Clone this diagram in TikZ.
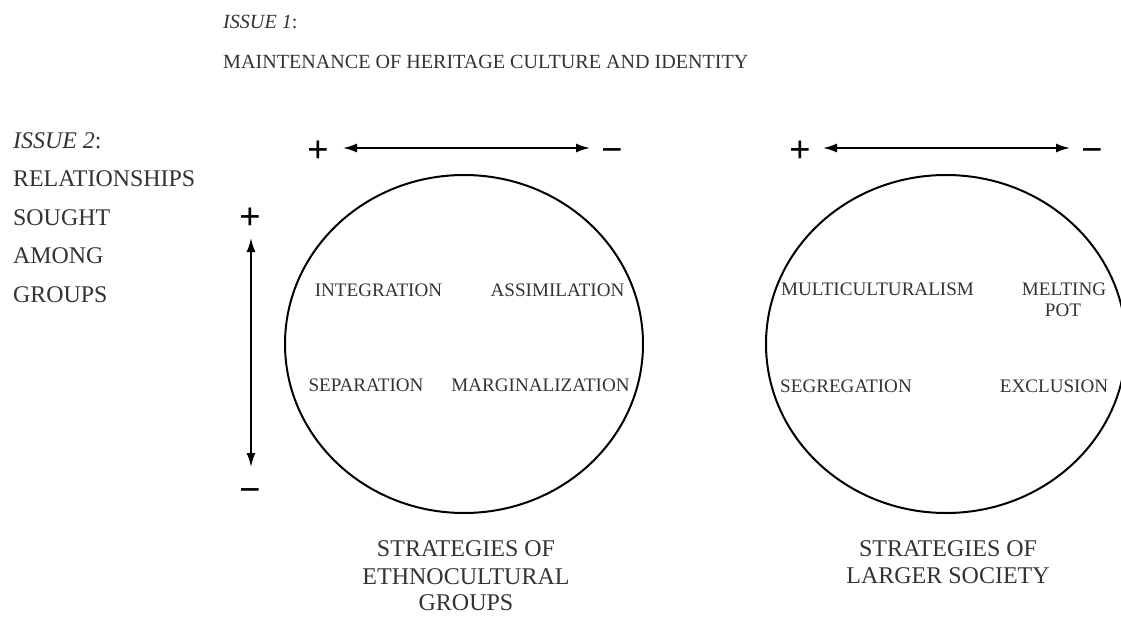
\documentclass[tikz,border=0pt]{standalone}
\usepackage{fontspec}
\setmainfont{Liberation Serif}
\usetikzlibrary{arrows.meta,shapes.geometric}
\definecolor{txt}{HTML}{333333}
\tikzset{
  lbl/.style={inner sep=0pt, text height=0.662em, text depth=0pt, text=txt},
  head/.style={lbl, font=\fontsize{20.1}{21}\selectfont},
  side/.style={lbl, font=\fontsize{23.9}{25}\selectfont, anchor=west},
  inner/.style={lbl, font=\fontsize{19.1}{20}\selectfont},
  foot/.style={lbl, font=\fontsize{24}{25}\selectfont},
  sign/.style={inner sep=0pt, font=\bfseries\fontsize{38}{40}\selectfont, text=black},
  dbl/.style={line width=1.8pt, {Latex[length=14pt,width=9pt]}-{Latex[length=14pt,width=9pt]}},
  ring/.style={line width=2pt, draw=black, ellipse, inner sep=0pt, outer sep=0pt}
}
\begin{document}
\begin{tikzpicture}[x=1pt,y=-1pt]
\useasboundingbox[fill=white] (0,0) rectangle (1121,616);
% header
\node[head, anchor=west] (iss1) at (223,25) {\textit{ISSUE 1}:};
\node[head, anchor=west] (main) at (223,65) {MAINTENANCE OF HERITAGE CULTURE AND IDENTITY};
% left column
\node[side] (iss2) at (13,145) {\textit{ISSUE 2}:};
\node[side] (rel) at (13,183) {RELATIONSHIPS};
\node[side] (sou) at (13,222) {SOUGHT};
\node[side] (amo) at (13,260) {AMONG};
\node[side] (gro) at (13,299) {GROUPS};
% horizontal axes
\node[sign] (p1) at (318,152) {+};
\node[sign] (m1) at (612,155.5) {−};
\coordinate (a1l) at (343,148);
\coordinate (a1r) at (590,148);
\draw[dbl] (a1l) -- (a1r);
\node[sign] (p2) at (800,152) {+};
\node[sign] (m2) at (1092,155.5) {−};
\coordinate (a2l) at (823,148);
\coordinate (a2r) at (1070,148);
\draw[dbl] (a2l) -- (a2r);
% vertical axis
\node[sign] (pv) at (250,219) {+};
\node[sign] (mv) at (250,495.5) {−};
\coordinate (vt) at (251,238);
\coordinate (vb) at (251,467);
\draw[dbl] (vt) -- (vb);
% circles
\node[ring, minimum width=358pt, minimum height=338pt] (c1) at (464,344) {};
\node[ring, minimum width=360pt, minimum height=338pt] (c2) at (946,344) {};
% left circle labels
\node[inner] (int) at (378.5,293) {INTEGRATION};
\node[inner] (ass) at (557.5,293) {ASSIMILATION};
\node[inner] (sep) at (366,388) {SEPARATION};
\node[inner] (mar) at (540.5,388) {MARGINALIZATION};
% right circle labels
\node[inner] (mul) at (877.5,292) {MULTICULTURALISM};
\node[inner] (mel) at (1064,292) {MELTING};
\node[inner] (pot) at (1063,313) {POT};
\node[inner] (seg) at (846,389) {SEGREGATION};
\node[inner] (exc) at (1054,389) {EXCLUSION};
% footers
\node[foot] (f1a) at (466,553) {STRATEGIES OF};
\node[foot] (f1b) at (466,581) {ETHNOCULTURAL};
\node[foot] (f1c) at (466,607) {GROUPS};
\node[foot] (f2a) at (948,553) {STRATEGIES OF};
\node[foot] (f2b) at (948,580) {LARGER SOCIETY};
\end{tikzpicture}
\end{document}
